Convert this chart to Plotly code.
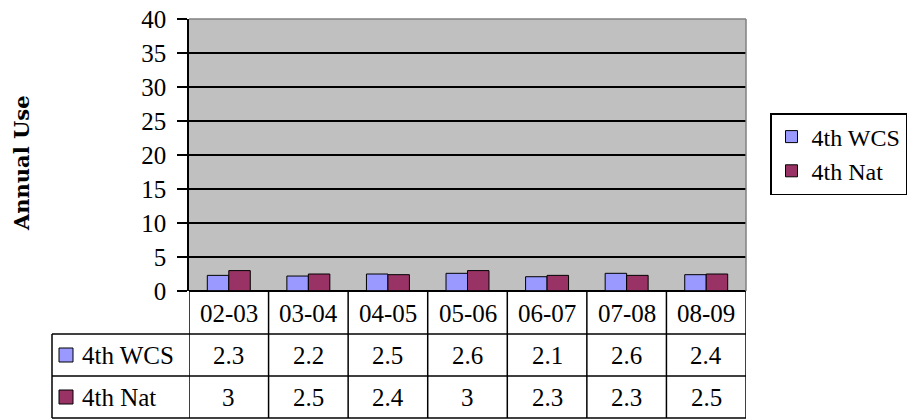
import plotly.graph_objects as go

# ---- data ----
categories = ["02-03", "03-04", "04-05", "05-06", "06-07", "07-08", "08-09"]
wcs_values = [2.3, 2.2, 2.5, 2.6, 2.1, 2.6, 2.4]
nat_values = [3, 2.5, 2.4, 3, 2.3, 2.3, 2.5]
series_names = ["4th WCS", "4th Nat"]
y_tick_values = [0, 5, 10, 15, 20, 25, 30, 35, 40]
y_title = "Annual Use"

colors = ["#9999FF", "#993366"]
W, H = 909, 419
L, R, T, B = 189, 746, 19, 291  # plot area in pixels
PW, PH = R - L, B - T

def px(x):
    return (x - L) / PW

def py(y):
    return (B - y) / PH

SERIF = "Liberation Serif"
TXT = dict(family=SERIF, size=25, color="#000000")

fig = go.Figure()
for name, vals, col in zip(series_names, [wcs_values, nat_values], colors):
    fig.add_trace(go.Bar(
        x=categories, y=vals, name=name, legendgroup=name,
        marker=dict(color=col, line=dict(color="#000000", width=1)),
    ))

shapes = []
annotations = []

row_lines = [291, 334, 376, 418]
for i in range(len(categories) + 1):
    shapes.append(dict(type="line", xref="x", yref="paper",
                       x0=i - 0.5, x1=i - 0.5, y0=py(row_lines[0]), y1=py(row_lines[-1]),
                       line=dict(color="#000000", width=1.5)))
for k, yl in enumerate(row_lines):
    x0 = px(52) if k >= 1 else 0
    shapes.append(dict(type="line", xref="paper", yref="paper",
                       x0=x0, x1=1, y0=py(yl), y1=py(yl),
                       line=dict(color="#000000", width=1.5)))
shapes.append(dict(type="line", xref="paper", yref="paper",
                   x0=px(52), x1=px(52), y0=py(334), y1=py(418),
                   line=dict(color="#000000", width=1.5)))
shapes.append(dict(type="line", xref="paper", yref="paper", x0=0, x1=1, y0=1, y1=1,
                   line=dict(color="#808080", width=1.5), layer="above"))
shapes.append(dict(type="line", xref="paper", yref="paper", x0=1, x1=1, y0=0, y1=1,
                   line=dict(color="#808080", width=1.5), layer="above"))

for c in categories:
    annotations.append(dict(x=c, y=py(313), xref="x", yref="paper", text=c,
                            showarrow=False, font=TXT, xanchor="center", yanchor="middle"))

row_centers = [355, 397]
for name, vals, col, yc in zip(series_names, [wcs_values, nat_values], colors, row_centers):
    shapes.append(dict(type="rect", xref="paper", yref="paper",
                       x0=px(59), x1=px(73), y0=py(yc + 7), y1=py(yc - 7),
                       fillcolor=col, line=dict(color="#000000", width=1)))
    annotations.append(dict(x=px(80), y=py(yc), xref="paper", yref="paper", text=name,
                            showarrow=False, font=TXT, xanchor="left", yanchor="middle"))
    for c, v in zip(categories, vals):
        annotations.append(dict(x=c, y=py(yc), xref="x", yref="paper", text=f"{v:g}",
                                showarrow=False, font=TXT, xanchor="center", yanchor="middle"))

annotations.append(dict(x=px(21), y=py(163), xref="paper", yref="paper", text=y_title,
                        textangle=-90, showarrow=False,
                        font=dict(family="DejaVu Serif", size=21, color="#000000", weight="bold"),
                        xanchor="center", yanchor="middle"))

fig.update_layout(
    width=W, height=H,
    margin=dict(l=L, r=W - R, t=T, b=H - B, pad=0, autoexpand=False),
    paper_bgcolor="#FFFFFF",
    plot_bgcolor="#C0C0C0",
    barmode="group", bargap=0.46, bargroupgap=0,
    font=dict(family=SERIF, size=25, color="#000000"),
    showlegend=True,
    legend=dict(x=px(770), y=py(113), xanchor="left", yanchor="top",
                bordercolor="#000000", borderwidth=1.5, bgcolor="#FFFFFF",
                font=dict(family=SERIF, size=24, color="#000000"),
                tracegroupgap=17, traceorder="normal"),
    shapes=shapes,
    annotations=annotations,
)
fig.update_xaxes(type="category", categoryarray=categories, range=[-0.5, len(categories) - 0.5],
                 showticklabels=False, ticks="", showgrid=False, zeroline=False,
                 showline=False, fixedrange=True)
fig.update_yaxes(range=[0, 40], tickvals=y_tick_values, ticks="outside", ticklen=10,
                 tickcolor="#000000", tickwidth=1.5, showgrid=True, gridcolor="#000000",
                 gridwidth=1.5, showline=True, linecolor="#000000", linewidth=1.5,
                 zeroline=True, zerolinecolor="#000000", zerolinewidth=1.5,
                 ticklabelstandoff=6, tickfont=dict(family=SERIF, size=25, color="#000000"),
                 automargin=False, fixedrange=True)

fig.write_html("out.html", config={"displayModeBar": False},
               post_script="document.body.style.margin='0px';")
